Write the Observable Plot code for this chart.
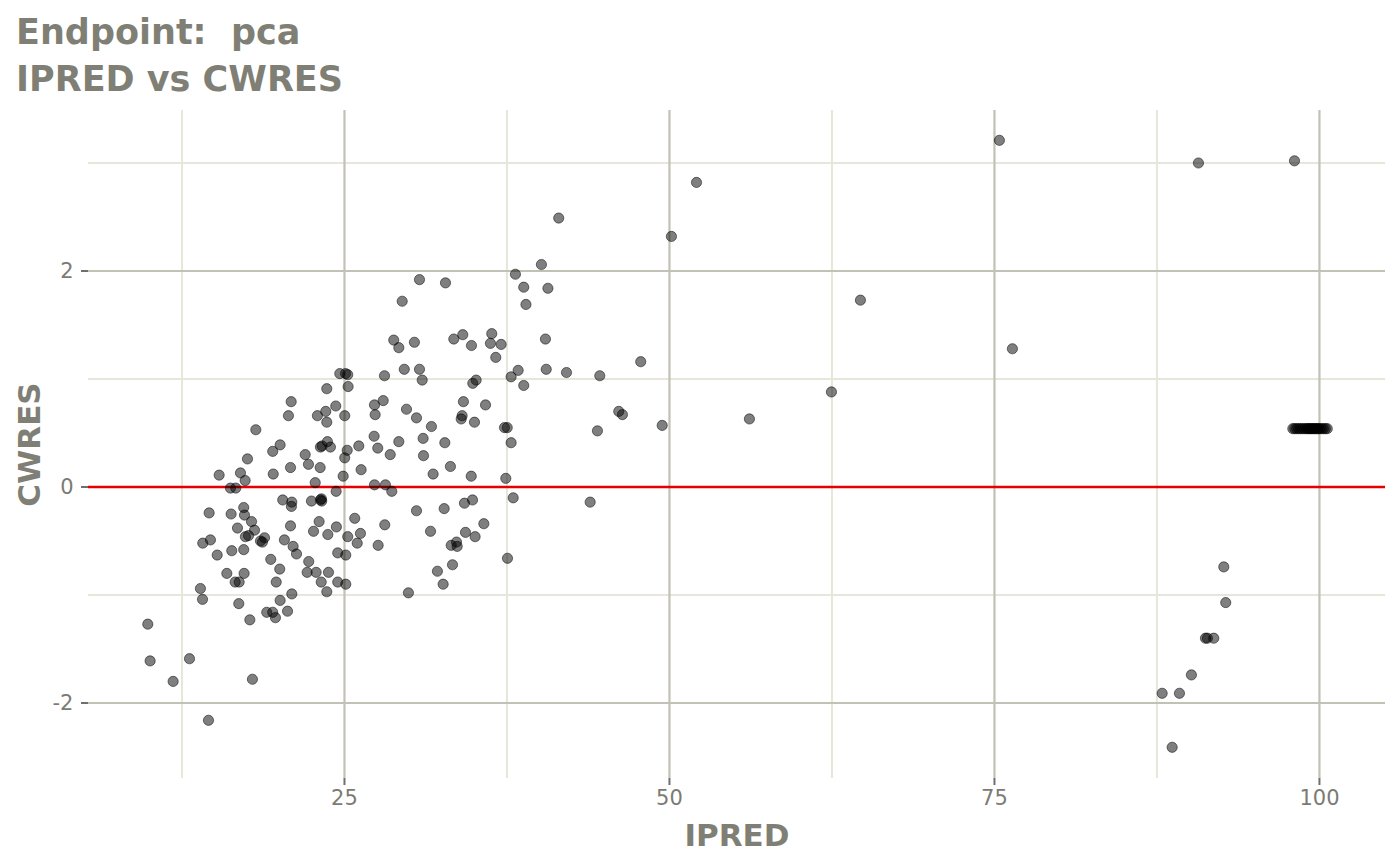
<!DOCTYPE html>
<html>
<head>
<meta charset="utf-8">
<script src="https://cdn.jsdelivr.net/npm/d3@7"></script>
<script src="https://cdn.jsdelivr.net/npm/@observablehq/plot@0.6"></script>
<style>
  html, body { margin: 0; padding: 0; background: #ffffff; }
  #wrap { width: 1400px; height: 865px; position: relative; overflow: hidden; font-family: "DejaVu Sans", sans-serif; }
  #title { position: relative; height: 100px; }
  #title div { position: absolute; left: 16px; font-weight: bold; font-size: 35px; line-height: 47px; color: #7f7f76; white-space: pre; }
  #chart svg { display: block; }
</style>
</head>
<body>
<div id="wrap">
  <div id="title">
    <div style="top:9px">Endpoint:  pca</div>
    <div style="top:56px">IPRED vs CWRES</div>
  </div>
  <div id="chart"></div>
</div>
<script>
// IPRED values (x)
const ipred = [
  9.87, 10.05, 11.82, 13.08, 13.92, 14.08, 14.10, 14.69, 14.59, 14.54,
  15.21, 15.36, 15.95, 16.23, 16.64, 16.28, 16.33, 16.77, 16.59, 16.90,
  16.87, 17.00, 17.36, 17.25, 17.31, 17.25, 17.28, 17.54, 17.85, 18.08,
  17.62, 17.38, 17.72, 17.92, 18.18, 18.85, 18.54, 18.69, 19.02, 19.48,
  19.69, 19.33, 20.02, 19.75, 20.05, 20.62, 20.95, 19.48, 20.05, 19.52,
  20.69, 20.90, 20.85, 20.38, 21.05, 21.31, 20.25, 20.95, 20.92, 20.85,
  21.98, 22.23, 22.46, 23.23, 23.25, 23.15, 22.75, 23.13, 22.92, 23.56,
  23.64, 24.33, 23.64, 23.69, 23.15, 23.28, 23.92, 23.05, 22.62, 23.72,
  24.38, 22.25, 22.13, 22.82, 23.77, 23.21, 23.64, 24.48, 25.10, 24.48,
  25.10, 24.36, 24.90, 25.02, 25.21, 25.02, 24.64, 25.08, 25.25, 25.28,
  25.79, 26.23, 25.98, 25.25, 26.10, 26.28, 27.31, 27.98, 27.36, 27.28,
  27.56, 28.52, 29.18, 27.31, 28.15, 28.64, 28.10, 27.59, 28.08, 28.79,
  29.18, 29.44, 29.60, 30.77, 32.77, 30.38, 33.41, 34.10, 34.77, 36.33,
  36.23, 37.05, 36.64, 40.46, 40.52, 30.77, 30.98, 35.13, 34.87, 37.82,
  38.36, 38.79, 29.77, 30.54, 34.15, 35.85, 34.05, 33.98, 35.00, 31.69,
  37.31, 37.52, 37.82, 31.05, 32.72, 31.08, 31.82, 33.15, 34.75, 37.41,
  30.54, 32.67, 34.23, 34.85, 37.98, 31.62, 34.31, 35.05, 35.72, 33.21,
  33.62, 33.67, 37.54, 32.15, 33.31, 32.59, 29.92, 40.15, 38.15, 38.79,
  40.65, 38.96, 41.48, 43.90, 44.46, 44.64, 42.08, 46.10, 46.38, 47.79,
  49.44, 50.15, 52.08, 56.15, 62.46, 64.69, 75.38, 76.38, 90.69, 98.08,
  92.64, 92.79, 91.23, 91.38, 91.87, 90.15, 87.90, 89.23, 88.67,
  97.95, 98.10, 98.25, 98.40, 98.55, 98.70, 98.85, 99.00, 99.10, 99.20,
  99.30, 99.40, 99.50, 99.60, 99.70, 99.80, 99.90, 100.00, 100.15, 100.30,
  100.45, 100.60
];
// CWRES values (y)
const cwres = [
  -1.27, -1.61, -1.80, -1.59, -0.94, -1.04, -0.52, -0.49, -0.24, -2.16,
  -0.63, 0.11, -0.80, -0.01, -0.01, -0.25, -0.59, -0.38, -0.88, -0.88,
  -1.08, 0.13, 0.06, -0.19, -0.26, -0.58, -0.80, 0.26, -0.32, -0.40,
  -0.45, -0.46, -1.23, -1.78, 0.53, -0.47, -0.50, -0.51, -1.16, -1.16,
  -1.21, -0.67, -0.76, -0.88, -1.05, -1.15, -0.99, 0.33, 0.39, 0.12,
  0.66, 0.79, 0.18, -0.49, -0.55, -0.62, -0.12, -0.14, -0.18, -0.36,
  0.30, 0.21, -0.13, -0.11, -0.13, -0.12, 0.04, 0.18, 0.66, 0.70,
  0.60, 0.75, 0.91, 0.42, 0.37, 0.38, 0.37, -0.32, -0.41, -0.44,
  -0.37, -0.69, -0.79, -0.79, -0.79, -0.88, -0.97, -0.88, -0.90, -0.61,
  -0.63, -0.04, 0.10, 0.27, 0.34, 0.66, 1.05, 1.05, 1.04, 0.93,
  -0.29, -0.43, -0.52, -0.46, 0.38, 0.16, 0.76, 0.80, 0.67, 0.47,
  0.36, 0.30, 0.42, 0.02, 0.02, -0.04, -0.35, -0.54, 1.03, 1.36,
  1.29, 1.72, 1.09, 1.92, 1.89, 1.34, 1.37, 1.41, 1.31, 1.42,
  1.33, 1.32, 1.20, 1.37, 1.09, 1.09, 0.99, 0.99, 0.96, 1.02,
  1.08, 0.94, 0.72, 0.64, 0.79, 0.76, 0.66, 0.63, 0.60, 0.56,
  0.55, 0.55, 0.41, 0.45, 0.41, 0.29, 0.12, 0.19, 0.10, 0.08,
  -0.22, -0.20, -0.15, -0.12, -0.10, -0.41, -0.42, -0.46, -0.34, -0.54,
  -0.51, -0.55, -0.66, -0.78, -0.72, -0.90, -0.98, 2.06, 1.97, 1.85,
  1.84, 1.69, 2.49, -0.14, 0.52, 1.03, 1.06, 0.70, 0.67, 1.16,
  0.57, 2.32, 2.82, 0.63, 0.88, 1.73, 3.21, 1.28, 3.00, 3.02,
  -0.74, -1.07, -1.40, -1.40, -1.40, -1.74, -1.91, -1.91, -2.41,
  0.54, 0.54, 0.54, 0.54, 0.54, 0.54, 0.54, 0.54, 0.54, 0.54,
  0.54, 0.54, 0.54, 0.54, 0.54, 0.54, 0.54, 0.54, 0.54, 0.54,
  0.54, 0.54
];
// Tick values
const xMajor = [25, 50, 75, 100];
const xMinor = [12.5, 37.5, 62.5, 87.5];
const yMajor = [-2, 0, 2];
const yMinor = [-1, 1, 3];
const xTitle = "IPRED";
const yTitle = "CWRES";

const n = Math.min(ipred.length, cwres.length);
const data = d3.range(n).map(i => ({ipred: ipred[i], cwres: cwres[i]}));

const textColor = "#7b7b73";
const chart = Plot.plot({
  width: 1400,
  height: 765,
  marginTop: 10,
  marginBottom: 87,
  marginLeft: 88,
  marginRight: 15,
  style: {fontFamily: "DejaVu Sans", fontSize: "21px", background: "white", color: textColor},
  x: {domain: [5.31, 105.08], label: null},
  y: {domain: [-2.699, 3.486], label: null},
  marks: [
    Plot.ruleX(xMinor, {stroke: "#e6e6da", strokeWidth: 2}),
    Plot.ruleY(yMinor, {stroke: "#e6e6da", strokeWidth: 2}),
    Plot.ruleX(xMajor, {stroke: "#c1c1b5", strokeWidth: 2.2}),
    Plot.ruleY(yMajor, {stroke: "#c1c1b5", strokeWidth: 2.2}),
    Plot.ruleY([0], {stroke: "#e60000", strokeWidth: 2.4}),
    Plot.dot(data, {x: "ipred", y: "cwres", r: 5.1, fill: "black", fillOpacity: 0.5, stroke: "black", strokeOpacity: 0.5, strokeWidth: 1}),
    Plot.axisX(xMajor, {tickSize: 7, tickPadding: 5, stroke: "#6f6f6f", strokeWidth: 2, fill: textColor, tickFormat: d => String(d), label: null}),
    Plot.axisY(yMajor, {tickSize: 7, tickPadding: 8, stroke: "#6f6f6f", strokeWidth: 2, fill: textColor, tickFormat: d => String(d), label: null}),
    Plot.text([xTitle], {frameAnchor: "bottom", dy: 67, text: d => d, fontSize: 31, fontWeight: "bold", fill: "#7f7f76"}),
    Plot.text([yTitle], {frameAnchor: "left", dx: -58, rotate: -90, textAnchor: "middle", text: d => d, fontSize: 31, fontWeight: "bold", fill: "#7f7f76"})
  ]
});
document.getElementById("chart").appendChild(chart);
</script>
</body>
</html>
